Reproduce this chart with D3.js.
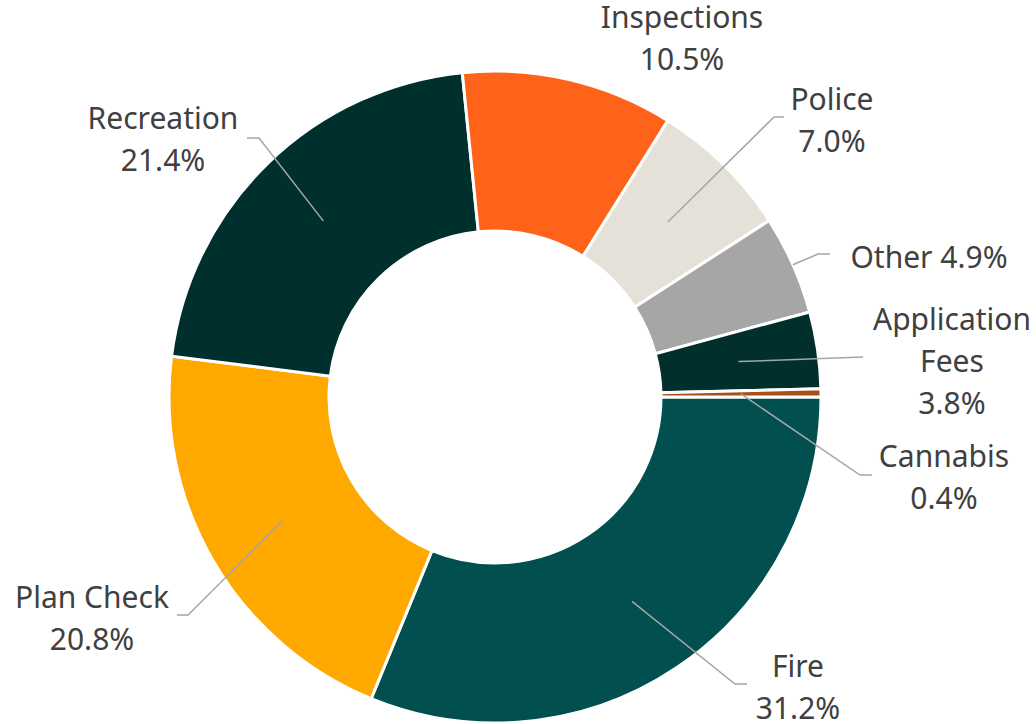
<!DOCTYPE html>
<html>
<head>
<meta charset="utf-8">
<script src="https://cdn.jsdelivr.net/npm/d3@7"></script>
<style>
  html, body { margin: 0; padding: 0; background: #ffffff; }
  svg { display: block; }
  text { font-family: "Noto Sans", "Open Sans", sans-serif; fill: #404040; }
</style>
</head>
<body>
<svg id="chart" width="1036" height="724"></svg>
<script>
// Revenue share by source (percent), drawn clockwise from 3 o'clock
const categories = ["Fire", "Plan Check", "Recreation", "Inspections", "Police", "Other", "Application Fees", "Cannabis"];
const values = [31.2, 20.8, 21.4, 10.5, 7.0, 4.9, 3.8, 0.4];
const colors = ["#01504f", "#ffa900", "#00302e", "#ff6319", "#e5e1d8", "#a6a6a6", "#002f2c", "#a9501a"];
const labelLines = [["Fire"], ["Plan Check"], ["Recreation"], ["Inspections"], ["Police"], ["Other"], ["Application", "Fees"], ["Cannabis"]];

// Label placement: text centre, first baseline, and leader elbow / end (null = no leader)
const labelLayout = {
  "Fire":             { x: 798, y: 677, elbow: [735, 684], end: [747, 684], anchorR: "mid" },
  "Plan Check":       { x: 92,  y: 608, elbow: [188, 615], end: [177, 615], anchorR: "mid" },
  "Recreation":       { x: 163, y: 129, elbow: [259, 138], end: [247, 138], anchorR: "mid" },
  "Inspections":      { x: 682, y: 28,  elbow: null, end: null },
  "Police":           { x: 832, y: 110, elbow: [774, 117], end: [784, 117], anchorR: "mid" },
  "Other":            { x: 929, y: 268, elbow: [818, 254], end: [830, 254], anchorR: "outer", inline: true },
  "Application Fees": { x: 952, y: 330, elbow: [863, 357], end: [863, 357], anchorR: "mid" },
  "Cannabis":         { x: 944, y: 467, elbow: [860, 475], end: [872, 475], anchorR: "mid" }
};

const width = 1036, height = 724;
const cx = 495, cy = 397;
const outerR = 326, innerR = 166;
const lineGap = 42;

const svg = d3.select("#chart");
const g = svg.append("g").attr("transform", `translate(${cx},${cy})`);

const data = categories.map((c, i) => ({ name: c, value: values[i], color: colors[i], lines: labelLines[i] }));

const pie = d3.pie()
  .value(d => d.value)
  .sort(null)
  .startAngle(Math.PI / 2)
  .endAngle(Math.PI / 2 + 2 * Math.PI);

const arc = d3.arc().innerRadius(innerR).outerRadius(outerR);
const arcs = pie(data);

g.selectAll("path.slice")
  .data(arcs)
  .join("path")
  .attr("class", "slice")
  .attr("d", arc)
  .attr("fill", d => d.data.color)
  .attr("stroke", "#ffffff")
  .attr("stroke-width", 3)
  .attr("stroke-linejoin", "miter");

// Leader lines
const midR = (innerR + outerR) / 2;
arcs.forEach(d => {
  const lay = labelLayout[d.data.name];
  if (!lay.elbow) return;
  const a = (d.startAngle + d.endAngle) / 2;
  const r = lay.anchorR === "outer" ? outerR : midR;
  const p0 = [cx + r * Math.sin(a), cy - r * Math.cos(a)];
  svg.append("polyline")
    .attr("points", [p0, lay.elbow, lay.end].map(p => p.join(",")).join(" "))
    .attr("fill", "none")
    .attr("stroke", "#a6a6a6")
    .attr("stroke-width", 1.5);
});

// Labels: category name then percentage
arcs.forEach(d => {
  const lay = labelLayout[d.data.name];
  const pct = d3.format(".1f")(d.data.value) + "%";
  const t = svg.append("text")
    .attr("text-anchor", "middle")
    .attr("font-size", 30);
  const rows = lay.inline ? [d.data.lines.join(" ") + " " + pct] : [...d.data.lines, pct];
  rows.forEach((s, i) => {
    t.append("tspan")
      .attr("x", lay.x)
      .attr("y", lay.y + i * lineGap)
      .text(s);
  });
});
</script>
</body>
</html>
